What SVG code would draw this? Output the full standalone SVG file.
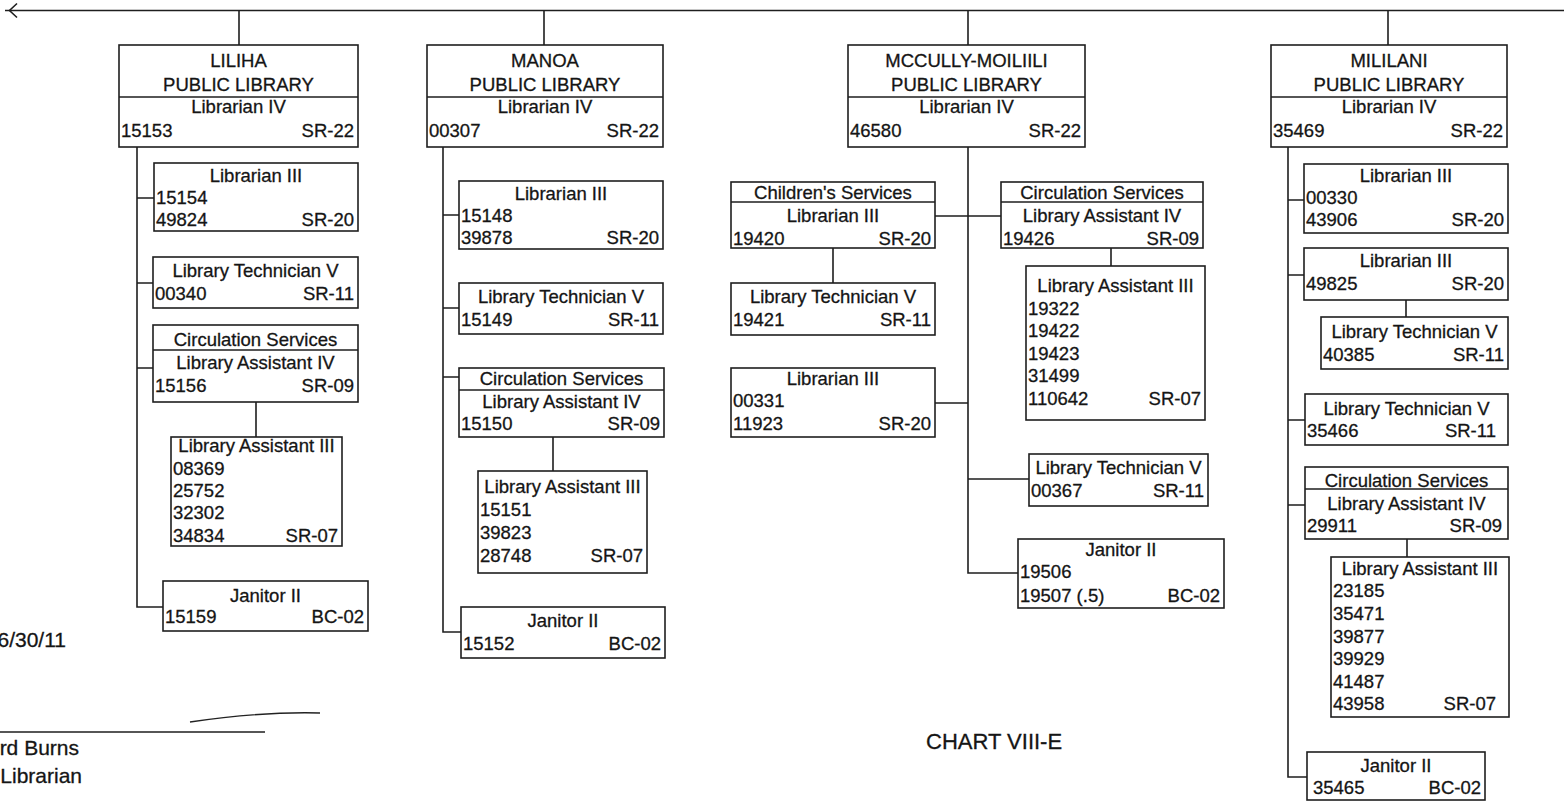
<svg xmlns="http://www.w3.org/2000/svg" width="1564" height="801" viewBox="0 0 1564 801">
<style>
.b{fill:#fff;stroke:#1e1e1e;stroke-width:1.6}
.d{stroke:#1e1e1e;stroke-width:1.6}
.ln{fill:none;stroke:#1e1e1e;stroke-width:1.6}
text{font-family:"Liberation Sans",Arial,sans-serif;font-size:18.5px;fill:#151515;stroke:#151515;stroke-width:0.3}
.c{text-anchor:middle}
.r{text-anchor:end}
.big{font-size:21px}
.chart{font-size:22px}
</style>
<rect width="1564" height="801" fill="#fff"/>
<g id="connectors">
<path class="ln" d="M5,10.5H1564" stroke-width="1.9"/>
<path class="ln" d="M17,3.5L9.5,10.5L17,17.5" stroke-width="1.9"/>
<path class="ln" d="M239,10.5V45M137,147V607H163M137,198H154M137,283H153M137,368H153M256,402V437"/>
<path class="ln" d="M544,10.5V45M443,147V632H461M443,215H459M443,308H459M443,377H459M553,437V471"/>
<path class="ln" d="M968,10.5V45M968,147V573H1018M935,216H1001M833,248V283M1111,248V266M935,403H968M968,479H1029"/>
<path class="ln" d="M1388,10.5V45M1288,147V777H1307M1288,200H1304M1288,275H1304M1406,300V317M1288,420H1305M1288,505H1305M1407,539V557"/>
</g>
<g id="liliha">
<rect class="b" x="119" y="45" width="239" height="102"/><line class="d" x1="119" y1="97" x2="358" y2="97"/>
<text class="c" x="238.5" y="67">LILIHA</text><text class="c" x="238.5" y="91">PUBLIC LIBRARY</text>
<text class="c" x="238.5" y="113">Librarian IV</text><text x="121" y="137">15153</text><text class="r" x="354" y="137">SR-22</text>
</g>
<g id="liliha-lib3">
<rect class="b" x="154" y="163" width="204" height="68"/>
<text class="c" x="256" y="182">Librarian III</text><text x="156" y="204">15154</text><text x="156" y="226">49824</text><text class="r" x="354" y="226">SR-20</text>
</g>
<g id="liliha-tech5">
<rect class="b" x="153" y="257" width="205" height="51"/>
<text class="c" x="255.5" y="277">Library Technician V</text><text x="155" y="300">00340</text><text class="r" x="354" y="300">SR-11</text>
</g>
<g id="liliha-circ">
<rect class="b" x="153" y="325" width="205" height="77"/><line class="d" x1="153" y1="350" x2="358" y2="350"/>
<text class="c" x="255.5" y="346">Circulation Services</text><text class="c" x="255.5" y="369">Library Assistant IV</text>
<text x="155" y="392">15156</text><text class="r" x="354" y="392">SR-09</text>
</g>
<g id="liliha-la3">
<rect class="b" x="171" y="437" width="171" height="109"/>
<text class="c" x="256.5" y="452">Library Assistant III</text>
<text x="173" y="475">08369</text><text x="173" y="497">25752</text><text x="173" y="519">32302</text><text x="173" y="542">34834</text><text class="r" x="338" y="542">SR-07</text>
</g>
<g id="liliha-janitor">
<rect class="b" x="163" y="581" width="205" height="50"/>
<text class="c" x="265.5" y="602">Janitor II</text><text x="165" y="623">15159</text><text class="r" x="364" y="623">BC-02</text>
</g>
<g id="manoa">
<rect class="b" x="427" y="45" width="236" height="102"/><line class="d" x1="427" y1="97" x2="663" y2="97"/>
<text class="c" x="545" y="67">MANOA</text><text class="c" x="545" y="91">PUBLIC LIBRARY</text>
<text class="c" x="545" y="113">Librarian IV</text><text x="429" y="137">00307</text><text class="r" x="659" y="137">SR-22</text>
</g>
<g id="manoa-lib3">
<rect class="b" x="459" y="181" width="204" height="68"/>
<text class="c" x="561" y="200">Librarian III</text><text x="461" y="222">15148</text><text x="461" y="244">39878</text><text class="r" x="659" y="244">SR-20</text>
</g>
<g id="manoa-tech5">
<rect class="b" x="459" y="283" width="204" height="51"/>
<text class="c" x="561" y="303">Library Technician V</text><text x="461" y="326">15149</text><text class="r" x="659" y="326">SR-11</text>
</g>
<g id="manoa-circ">
<rect class="b" x="459" y="368" width="205" height="69"/><line class="d" x1="459" y1="390" x2="664" y2="390"/>
<text class="c" x="561.5" y="385">Circulation Services</text><text class="c" x="561.5" y="408">Library Assistant IV</text>
<text x="461" y="430">15150</text><text class="r" x="660" y="430">SR-09</text>
</g>
<g id="manoa-la3">
<rect class="b" x="478" y="471" width="169" height="102"/>
<text class="c" x="562.5" y="493">Library Assistant III</text>
<text x="480" y="516">15151</text><text x="480" y="539">39823</text><text x="480" y="562">28748</text><text class="r" x="643" y="562">SR-07</text>
</g>
<g id="manoa-janitor">
<rect class="b" x="461" y="607" width="204" height="51"/>
<text class="c" x="563" y="627">Janitor II</text><text x="463" y="650">15152</text><text class="r" x="661" y="650">BC-02</text>
</g>
<g id="mccully">
<rect class="b" x="848" y="45" width="237" height="102"/><line class="d" x1="848" y1="97" x2="1085" y2="97"/>
<text class="c" x="966.5" y="67">MCCULLY-MOILIILI</text><text class="c" x="966.5" y="91">PUBLIC LIBRARY</text>
<text class="c" x="966.5" y="113">Librarian IV</text><text x="850" y="137">46580</text><text class="r" x="1081" y="137">SR-22</text>
</g>
<g id="mccully-children">
<rect class="b" x="731" y="182" width="204" height="66"/><line class="d" x1="731" y1="202" x2="935" y2="202"/>
<text class="c" x="833" y="199">Children's Services</text><text class="c" x="833" y="222">Librarian III</text>
<text x="733" y="245">19420</text><text class="r" x="931" y="245">SR-20</text>
</g>
<g id="mccully-circ">
<rect class="b" x="1001" y="182" width="202" height="66"/><line class="d" x1="1001" y1="202" x2="1203" y2="202"/>
<text class="c" x="1102" y="199">Circulation Services</text><text class="c" x="1102" y="222">Library Assistant IV</text>
<text x="1003" y="245">19426</text><text class="r" x="1199" y="245">SR-09</text>
</g>
<g id="mccully-tech5a">
<rect class="b" x="731" y="283" width="204" height="52"/>
<text class="c" x="833" y="303">Library Technician V</text><text x="733" y="326">19421</text><text class="r" x="931" y="326">SR-11</text>
</g>
<g id="mccully-lib3">
<rect class="b" x="731" y="368" width="204" height="69"/>
<text class="c" x="833" y="385">Librarian III</text><text x="733" y="407">00331</text><text x="733" y="430">11923</text><text class="r" x="931" y="430">SR-20</text>
</g>
<g id="mccully-la3">
<rect class="b" x="1026" y="266" width="179" height="154"/>
<text class="c" x="1115.5" y="292">Library Assistant III</text>
<text x="1028" y="315">19322</text><text x="1028" y="337">19422</text><text x="1028" y="360">19423</text><text x="1028" y="382">31499</text><text x="1028" y="405">110642</text><text class="r" x="1201" y="405">SR-07</text>
</g>
<g id="mccully-tech5b">
<rect class="b" x="1029" y="454" width="179" height="52"/>
<text class="c" x="1118.5" y="474">Library Technician V</text><text x="1031" y="497">00367</text><text class="r" x="1204" y="497">SR-11</text>
</g>
<g id="mccully-janitor">
<rect class="b" x="1018" y="539" width="206" height="69"/>
<text class="c" x="1121" y="556">Janitor II</text><text x="1020" y="578">19506</text><text x="1020" y="602">19507 (.5)</text><text class="r" x="1220" y="602">BC-02</text>
</g>
<g id="mililani">
<rect class="b" x="1271" y="45" width="236" height="102"/><line class="d" x1="1271" y1="97" x2="1507" y2="97"/>
<text class="c" x="1389" y="67">MILILANI</text><text class="c" x="1389" y="91">PUBLIC LIBRARY</text>
<text class="c" x="1389" y="113">Librarian IV</text><text x="1273" y="137">35469</text><text class="r" x="1503" y="137">SR-22</text>
</g>
<g id="mililani-lib3a">
<rect class="b" x="1304" y="164" width="204" height="69"/>
<text class="c" x="1406" y="182">Librarian III</text><text x="1306" y="204">00330</text><text x="1306" y="226">43906</text><text class="r" x="1504" y="226">SR-20</text>
</g>
<g id="mililani-lib3b">
<rect class="b" x="1304" y="248" width="204" height="52"/>
<text class="c" x="1406" y="267">Librarian III</text><text x="1306" y="290">49825</text><text class="r" x="1504" y="290">SR-20</text>
</g>
<g id="mililani-tech5a">
<rect class="b" x="1321" y="317" width="187" height="52"/>
<text class="c" x="1414.5" y="338">Library Technician V</text><text x="1323" y="361">40385</text><text class="r" x="1504" y="361">SR-11</text>
</g>
<g id="mililani-tech5b">
<rect class="b" x="1305" y="394" width="203" height="51"/>
<text class="c" x="1406.5" y="415">Library Technician V</text><text x="1307" y="437">35466</text><text class="r" x="1496" y="437">SR-11</text>
</g>
<g id="mililani-circ">
<rect class="b" x="1305" y="467" width="203" height="72"/><line class="d" x1="1305" y1="489" x2="1508" y2="489"/>
<text class="c" x="1406.5" y="487">Circulation Services</text><text class="c" x="1406.5" y="510">Library Assistant IV</text>
<text x="1307" y="532">29911</text><text class="r" x="1502" y="532">SR-09</text>
</g>
<g id="mililani-la3">
<rect class="b" x="1331" y="557" width="178" height="160"/>
<text class="c" x="1420" y="575">Library Assistant III</text>
<text x="1333" y="597">23185</text><text x="1333" y="620">35471</text><text x="1333" y="643">39877</text><text x="1333" y="665">39929</text><text x="1333" y="688">41487</text><text x="1333" y="710">43958</text><text class="r" x="1496" y="710">SR-07</text>
</g>
<g id="mililani-janitor">
<rect class="b" x="1307" y="752" width="178" height="48"/>
<text class="c" x="1396" y="772">Janitor II</text><text x="1313" y="794">35465</text><text class="r" x="1481" y="794">BC-02</text>
</g>
<g id="signature-block">
<text class="big r" x="66" y="647">6/30/11</text>
<line class="ln" x1="0" y1="732" x2="265" y2="732"/>
<path fill="none" stroke="#222" stroke-width="1.4" d="M190,722C230,716 280,712 320,713"/>
<text class="big r" x="79" y="755">rd Burns</text>
<text class="big r" x="82" y="783">Librarian</text>
</g>
<text class="chart" x="926" y="749">CHART VIII-E</text>
</svg>
